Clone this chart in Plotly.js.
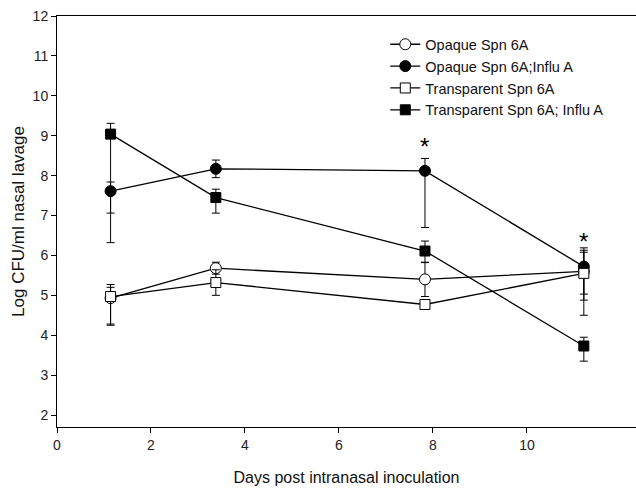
<!DOCTYPE html>
<html>
<head>
<meta charset="utf-8">
<script src="https://cdn.plot.ly/plotly-3.0.1.min.js"></script>
<style>html,body{margin:0;padding:0;background:#fff;}#chart{width:636px;height:490px;}</style>
</head>
<body>
<div id="chart"></div>
<script>
// Data (x positions as they sit against the printed axis)
const days = [1.14, 3.38, 7.83, 11.21];
const seriesNames = ["Opaque Spn 6A", "Opaque Spn 6A;Influ A", "Transparent Spn 6A", "Transparent Spn 6A; Influ A"];

const opaque        = [4.93, 5.68, 5.40, 5.60];
const opaquePlus    = [0.27, 0.15, 0.43, 0.53];
const opaqueMinus   = [0.65, 0.15, 0.43, 0.57];

const opaqueFlu      = [7.61, 8.17, 8.12, 5.72];
const opaqueFluPlus  = [0.23, 0.22, 0.31, 0.47];
const opaqueFluMinus = [1.29, 0.22, 1.42, 0.84];

const transp        = [4.97, 5.32, 4.77, 5.55];
const transpPlus    = [0.30, 0.32, 0.10, 0.53];
const transpMinus   = [0.72, 0.32, 0.10, 1.05];

const transpFlu      = [9.04, 7.45, 6.11, 3.73];
const transpFluPlus  = [0.27, 0.21, 0.25, 0.22];
const transpFluMinus = [1.98, 0.39, 0.29, 0.38];

const starX = [7.83, 11.21];
const starY = [8.74, 6.36];

const xTicks = [0, 2, 4, 6, 8, 10];
const yTicks = [2, 3, 4, 5, 6, 7, 8, 9, 10, 11, 12];

function mk(name, y, plus, minus, symbol, fill) {
  return {
    type: "scatter", mode: "lines+markers", name: name,
    x: days, y: y,
    line: {color: "#000", width: 1.3},
    marker: {symbol: symbol, size: symbol.indexOf("square") >= 0 ? 10 : 11,
             color: fill, line: {color: "#000", width: 1}},
    error_y: {type: "data", symmetric: false, array: plus, arrayminus: minus,
              color: "#000", thickness: 1, width: 4}
  };
}

const traces = [
  mk(seriesNames[0], opaque, opaquePlus, opaqueMinus, "circle", "#fff"),
  mk(seriesNames[1], opaqueFlu, opaqueFluPlus, opaqueFluMinus, "circle", "#000"),
  mk(seriesNames[2], transp, transpPlus, transpMinus, "square", "#fff"),
  mk(seriesNames[3], transpFlu, transpFluPlus, transpFluMinus, "square", "#000")
];

const annotations = starX.map((x, i) => ({
  x: x, y: starY[i], xref: "x", yref: "y", text: "*", showarrow: false,
  font: {family: "Liberation Sans, Arial, sans-serif", size: 24, color: "#000"}
}));

const layout = {
  width: 636, height: 490,
  margin: {l: 57, r: 0, t: 16, b: 63},
  paper_bgcolor: "#fff", plot_bgcolor: "#fff",
  font: {family: "Liberation Sans, Arial, sans-serif", color: "#111"},
  showlegend: true,
  legend: {x: 0.567, y: 0.97, xanchor: "left", yanchor: "top",
           bgcolor: "rgba(0,0,0,0)", borderwidth: 0,
           font: {size: 14.5, color: "#111"}, tracegroupgap: 0, itemwidth: 30},
  xaxis: {
    range: [0, 12.32], tickvals: xTicks, ticktext: xTicks.map(String),
    showgrid: false, zeroline: false, showline: true, linecolor: "#000", linewidth: 1,
    mirror: true, ticks: "outside", ticklen: 5, tickcolor: "#000",
    tickfont: {size: 14, color: "#222"},
    title: {text: "Days post intranasal inoculation", font: {size: 16, color: "#111"}, standoff: 20}
  },
  yaxis: {
    range: [1.7, 12], tickvals: yTicks, ticktext: yTicks.map(String),
    showgrid: false, zeroline: false, showline: true, linecolor: "#000", linewidth: 1,
    ticks: "outside", ticklen: 5, tickcolor: "#000",
    tickfont: {size: 14, color: "#222"},
    title: {text: "Log CFU/ml nasal lavage", font: {size: 17, color: "#111"}, standoff: 3}
  },
  annotations: annotations
};

Plotly.newPlot("chart", traces, layout, {displayModeBar: false, staticPlot: true});
</script>
</body>
</html>
